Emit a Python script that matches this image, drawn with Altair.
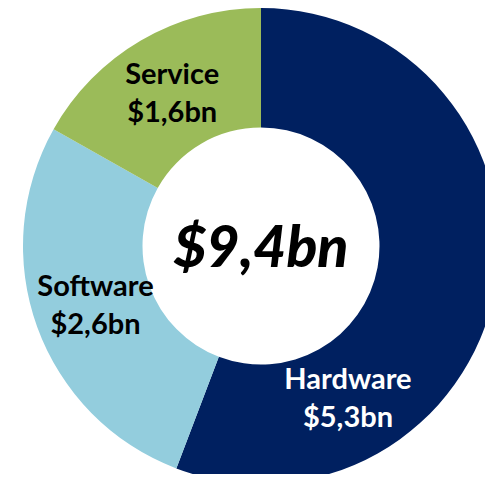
import altair as alt
import pandas as pd

categories = ["Hardware", "Software", "Service"]
values = [5.3, 2.6, 1.6]
value_labels = ["$5,3bn", "$2,6bn", "$1,6bn"]
colors = ["#002060", "#93CDDD", "#9BBB59"]
label_colors = ["white", "black", "black"]
total_label = "$9,4bn"

df = pd.DataFrame({
    "category": categories,
    "value": values,
    "order": list(range(len(categories))),
    "label": [f"{c}\n{v}" for c, v in zip(categories, value_labels)],
    "tcolor": label_colors,
})

CX, CY = 253, 238

base = alt.Chart(df).encode(
    theta=alt.Theta("value:Q", stack=True),
    order=alt.Order("order:Q"),
    x=alt.value(CX), y=alt.value(CY),
)

arcs = base.mark_arc(outerRadius=238, innerRadius=118.5, strokeWidth=0).encode(
    color=alt.Color("category:N", scale=alt.Scale(domain=categories, range=colors), legend=None),
)

text_style = dict(font="Lato", fontWeight="bold", fontSize=29, lineBreak="\n",
                  lineHeight=38, align="center", baseline="middle")

is_hw = alt.datum.category == "Hardware"

labels_other = base.mark_text(radius=176, dy=-19, **text_style).encode(
    text=alt.condition(is_hw, alt.value(""), alt.Text("label:N")),
    color=alt.Color("tcolor:N", scale=None),
)

labels_hw = base.mark_text(radius=183, dx=-93, dy=101, **text_style).encode(
    text=alt.condition(is_hw, alt.Text("label:N"), alt.value("")),
    color=alt.Color("tcolor:N", scale=None),
)

center = alt.Chart(pd.DataFrame({"t": [total_label]})).mark_text(
    font="Lato", fontWeight=900, fontStyle="italic", fontSize=57,
    align="center", baseline="alphabetic", color="black",
).encode(text="t:N", x=alt.value(CX), y=alt.value(CY + 21))

chart = alt.layer(arcs, labels_other, labels_hw, center).properties(
    width=477, height=466, padding=0, autosize=alt.AutoSizeParams(type="none")
).configure_view(stroke=None)

chart.save("out.html", embed_options={"renderer": "svg", "actions": False})
